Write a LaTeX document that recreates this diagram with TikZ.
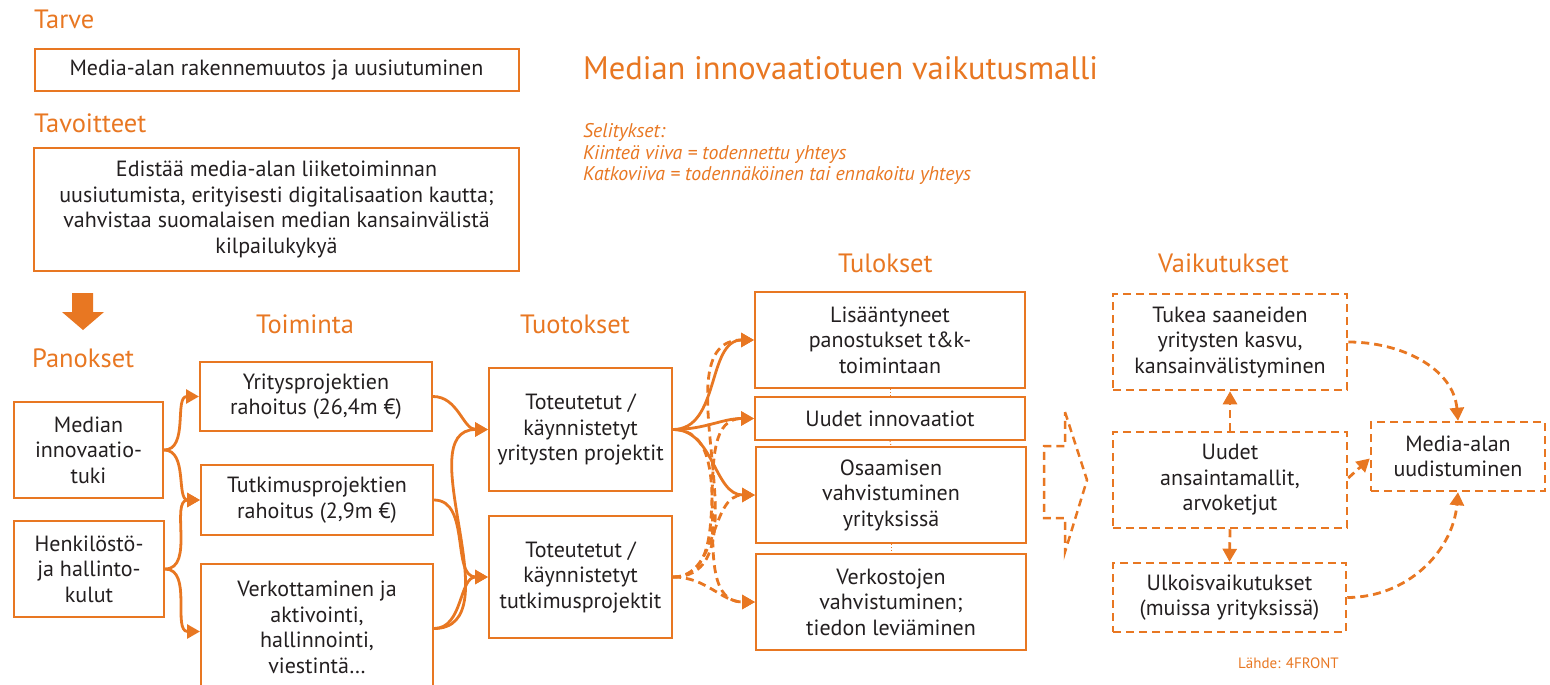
\documentclass[tikz,border=0pt]{standalone}
\usepackage{fontspec}
\setmainfont{PT Sans}
\usetikzlibrary{arrows.meta}
\definecolor{brand}{RGB}{232,119,34}
\definecolor{ink}{RGB}{35,31,32}

\begin{document}
\begin{tikzpicture}[x=1pt,y=-1pt,
  box/.style={draw=brand, line width=2pt, align=center, text=ink,
    font=\fontsize{22}{25.5}\selectfont, inner sep=0pt},
  dbox/.style={box, dash pattern=on 8pt off 5pt, line width=2.5pt},
  head/.style={text=brand, font=\fontsize{26.5}{30}\selectfont, anchor=base west, inner sep=0pt},
  legendline/.style={text=brand, font=\itshape\fontsize{19.8}{22}\selectfont, anchor=base west, inner sep=0pt},
  link/.style={draw=brand, line width=2.8pt, -{Triangle[length=13pt,width=14pt]}},
  dlink/.style={link, dash pattern=on 8pt off 5pt},
  joint/.style={draw=brand, line width=1pt, dotted},
  ]
\useasboundingbox (0,0) rectangle (1550,685);

% headings
\node[head] (hTarve) at (34,29) {Tarve};
\node[head] (hTav) at (34,132) {Tavoitteet};
\node[head] (hPan) at (32,367) {Panokset};
\node[head] (hToi) at (256,333) {Toiminta};
\node[head] (hTuo) at (520,333) {Tuotokset};
\node[head] (hTul) at (838,272) {Tulokset};
\node[head] (hVai) at (1158,272) {Vaikutukset};

% title and legend
\node[text=brand, font=\fontsize{32.5}{36}\selectfont, anchor=base west, inner sep=0pt]
  (title) at (583,80) {Median innovaatiotuen vaikutusmalli};
\node[legendline] (leg1) at (583,137) {Selitykset:};
\node[legendline] (leg2) at (583,159) {Kiinteä viiva = todennettu yhteys};
\node[legendline] (leg3) at (583,180.5) {Katkoviiva = todennäköinen tai ennakoitu yhteys};
\node[text=brand, font=\fontsize{15}{17}\selectfont, anchor=base west, inner sep=0pt]
  (source) at (1238,668) {Lähde: 4FRONT};

% need and goals
\node[box, minimum width=484pt, minimum height=42pt] (need) at (276.5,70)
  {Media-alan rakennemuutos ja uusiutuminen};
\node[box, minimum width=485pt, minimum height=123pt] (goal) at (276.5,209.5)
  {Edistää media-alan liiketoiminnan\\uusiutumista, erityisesti digitalisaation kautta;\\vahvistaa suomalaisen median kansainvälistä\\kilpailukykyä};

% block arrow down
\fill[brand] (72,293) -- (93,293) -- (93,312) -- (104,312) -- (83,330) -- (62,312) -- (72,312) -- cycle;

% inputs
\node[box, minimum width=149pt, minimum height=96pt] (pan1) at (88.5,450) {Median\\innovaatio-\\tuki};
\node[box, minimum width=150pt, minimum height=96pt] (pan2) at (89,569) {Henkilöstö-\\ja hallinto-\\kulut};

% activities
\node[box, minimum width=232pt, minimum height=69pt] (act1) at (316,396.5) {Yritysprojektien\\rahoitus (26,4m €)};
\node[box, minimum width=232pt, minimum height=70pt] (act2) at (317,500) {Tutkimusprojektien\\rahoitus (2,9m €)};
\node[box, minimum width=232pt, minimum height=127pt] (act3) at (317,627.5) {Verkottaminen ja\\aktivointi,\\hallinnointi,\\viestintä…};

% outputs
\node[box, minimum width=183pt, minimum height=123pt] (out1) at (580.5,429.5) {Toteutetut /\\käynnistetyt\\yritysten projektit};
\node[box, minimum width=183pt, minimum height=122pt] (out2) at (580.5,577) {Toteutetut /\\käynnistetyt\\tutkimusprojektit};

% results
\node[box, minimum width=270pt, minimum height=96pt] (res1) at (890,340) {Lisääntyneet\\panostukset t\&k-\\toimintaan};
\node[box, minimum width=270pt, minimum height=43pt] (res2) at (890,418.5) {Uudet innovaatiot};
\node[box, minimum width=270pt, minimum height=96pt] (res3) at (891,495) {Osaamisen\\vahvistuminen\\yrityksissä};
\node[box, minimum width=270pt, minimum height=96pt] (res4) at (891,602) {Verkostojen\\vahvistuminen;\\tiedon leviäminen};
\draw[joint] (res1.south) -- (res2.north);
\draw[joint] (res2.south) -- (res3.north);
\draw[joint] (res3.south) -- (res4.north);

% dashed block arrow towards impacts
\draw[brand, line width=2.5pt, dash pattern=on 8pt off 5pt, line join=miter]
  (1065,412) -- (1087,480) -- (1065,552) -- (1065,518) -- (1044,518)
  -- (1044,446) -- (1065,446) -- cycle;

% impacts
\node[dbox, minimum width=234pt, minimum height=96pt] (imp1) at (1230,342) {Tukea saaneiden\\yritysten kasvu,\\kansainvälistyminen};
\node[dbox, minimum width=234pt, minimum height=96pt] (imp2) at (1230,480) {Uudet\\ansaintamallit,\\arvoketjut};
\node[dbox, minimum width=233pt, minimum height=69pt] (imp3) at (1229.5,597.5) {Ulkoisvaikutukset\\(muissa yrityksissä)};
\node[dbox, minimum width=174pt, minimum height=69pt] (imp4) at (1458,456.5) {Media-alan\\uudistuminen};

% inputs -> activities
\draw[link] (pan1.east) to[out=0,in=180] (act1.west);
\draw[link] (pan1.east) to[out=0,in=180] (act2.west);
\draw[link] (pan2.east) to[out=0,in=180] (act2.west);
\draw[link] (pan2.east) to[out=0,in=180] ([yshift=-4pt]act3.west);

% activities -> outputs
\draw[link] (act1.east) to[out=0,in=180] (out1.west);
\draw[link] (act2.east) to[out=0,in=180] (out2.west);
\draw[link] ([yshift=-1pt]act3.east) to[out=0,in=180] (out1.west);
\draw[link] ([yshift=-1pt]act3.east) to[out=0,in=180] (out2.west);

% outputs -> results
\draw[link] (out1.east) to[out=0,in=180] (res1.west);
\draw[link] (out1.east) to[out=0,in=180] (res2.west);
\draw[link] (out1.east) to[out=0,in=180] (res3.west);
\draw[dlink] (out1.east) to[out=0,in=180] (res4.west);
\draw[dlink] (out2.east) to[out=0,in=180] (res1.west);
\draw[dlink] (out2.east) to[out=0,in=180] (res2.west);
\draw[dlink] (out2.east) to[out=0,in=180] (res3.west);
\draw[dlink] (out2.east) to[out=0,in=180] (res4.west);

% impacts
\draw[dlink] (imp2.north) -- (imp1.south);
\draw[dlink] (imp2.south) -- (imp3.north);
\draw[dlink] (imp1.east) to[out=0,in=95] (imp4.north);
\draw[dlink] ([yshift=2pt]imp2.east) -- ([yshift=-2pt]imp4.west);
\draw[dlink] (imp3.east) to[out=0,in=-95] (imp4.south);
\end{tikzpicture}
\end{document}
